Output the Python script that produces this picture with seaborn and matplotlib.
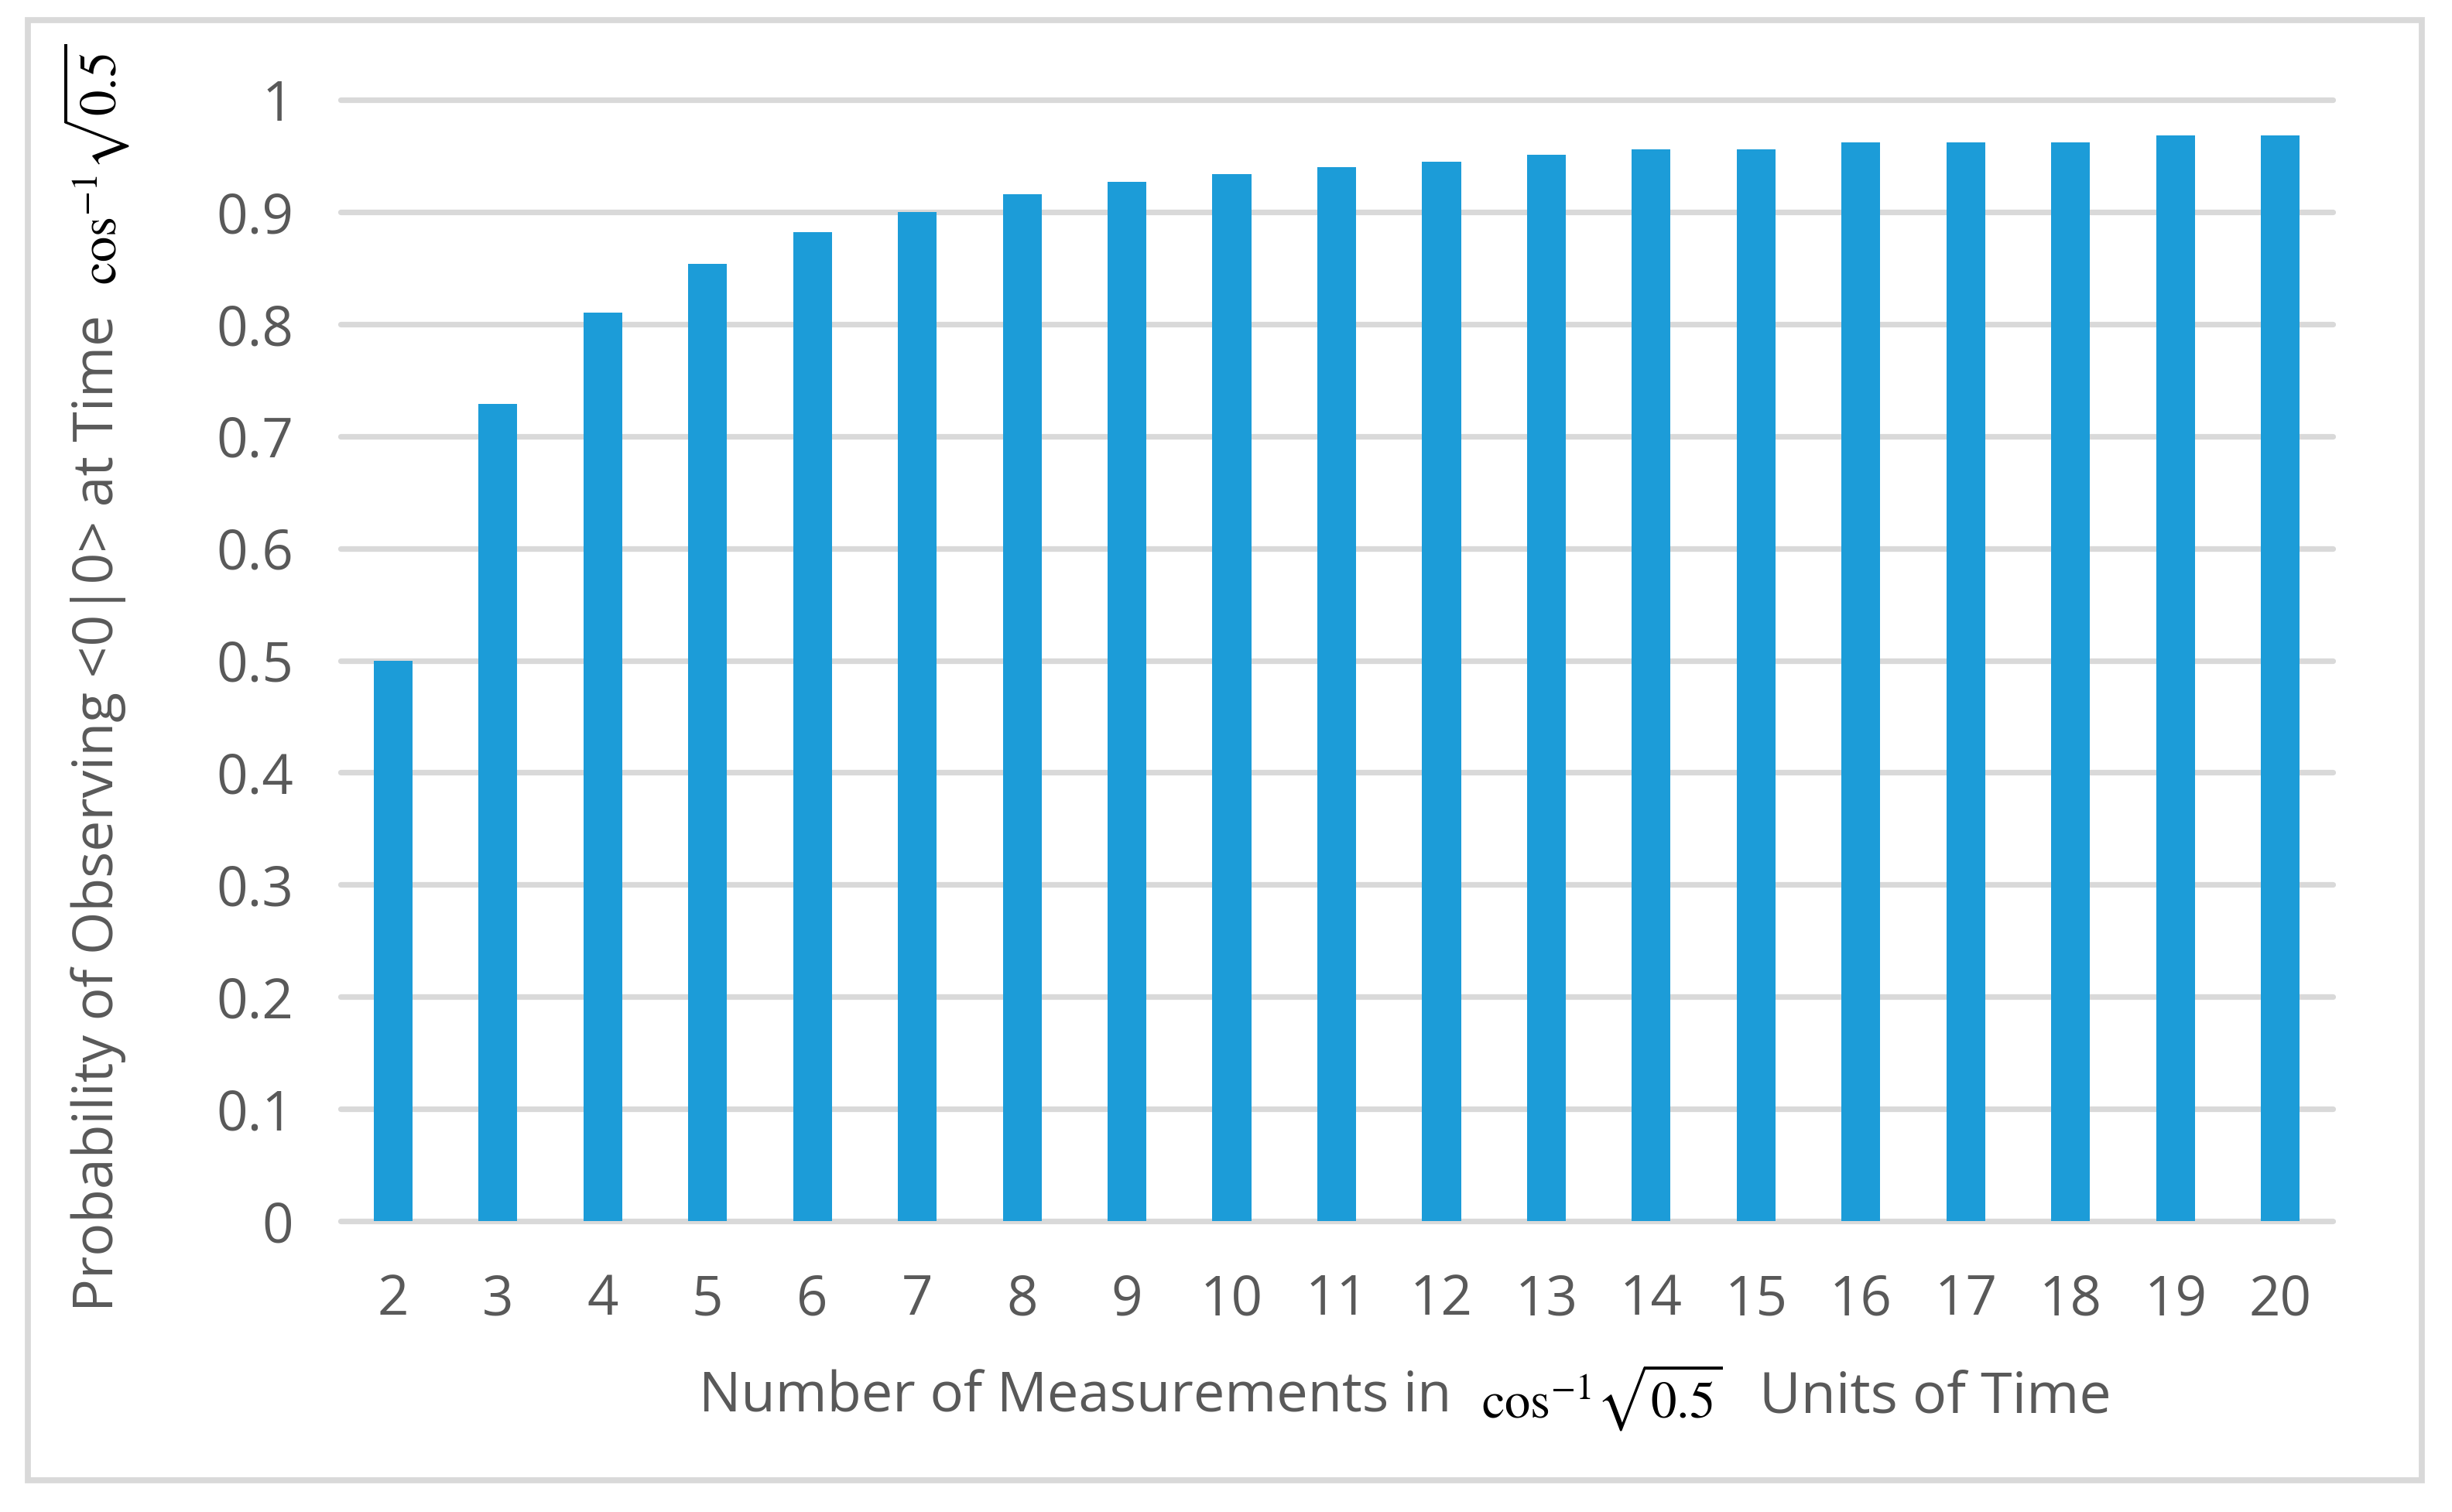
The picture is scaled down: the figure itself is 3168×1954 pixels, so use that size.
import matplotlib
matplotlib.use("Agg")
import matplotlib.pyplot as plt
import seaborn as sns
import pandas as pd
from matplotlib.patches import Rectangle

# ---- data ----
measurements = ["2", "3", "4", "5", "6", "7", "8", "9", "10", "11", "12",
                "13", "14", "15", "16", "17", "18", "19", "20"]
probability = [0.5, 0.729, 0.81, 0.854, 0.882, 0.9, 0.916, 0.927, 0.934, 0.94,
               0.945, 0.951, 0.956, 0.956, 0.962, 0.962, 0.962, 0.968, 0.968]
y_ticks = [0, 0.1, 0.2, 0.3, 0.4, 0.5, 0.6, 0.7, 0.8, 0.9, 1]
y_tick_labels = ["0", "0.1", "0.2", "0.3", "0.4", "0.5", "0.6", "0.7", "0.8", "0.9", "1"]

df = pd.DataFrame({"n": measurements, "p": probability})

sns.set_theme(style="white")
plt.rcParams["font.family"] = ["Open Sans", "DejaVu Sans"]
plt.rcParams["mathtext.fontset"] = "stix"

W, H = 3168, 1954
DPI = 200
fig = plt.figure(figsize=(W / DPI, H / DPI), dpi=DPI)
fig.patch.set_facecolor("white")

def fx(x):
    return x / W

def fy(y):
    return 1 - y / H

left, right, top, bottom = 440, 3014, 129, 1578
ax = fig.add_axes([fx(left), fy(bottom), fx(right) - fx(left), fy(top) - fy(bottom)])

grid_c = "#D9D9D9"
text_c = "#595959"
bar_c = "#1C9CD8"

for yv in y_ticks:
    ax.axhline(yv, color=grid_c, lw=2.6, zorder=0, clip_on=False)

sns.barplot(data=df, x="n", y="p", color=bar_c, width=0.37, saturation=1,
            edgecolor="none", ax=ax, zorder=2)

ax.set_ylim(0, 1)
ax.set_xlim(-0.5, len(measurements) - 0.5)
ax.set_yticks(y_ticks)
ax.set_yticklabels(y_tick_labels)
ax.tick_params(axis="y", length=0, pad=22, labelsize=25.5, labelcolor=text_c)
ax.tick_params(axis="x", length=0, pad=24, labelsize=25.5, labelcolor=text_c)
ax.set_xlabel("")
ax.set_ylabel("")
for s in ax.spines.values():
    s.set_visible(False)

# y label (gray text + black math)
fig.text(fx(127), fy(1695), "Probability of Observing <0|0> at Time",
         rotation=90, ha="center", va="bottom", fontsize=25.7, color=text_c)
fig.text(fx(124), fy(212), r"$\cos^{-1}\!\sqrt{0.5}$",
         rotation=90, ha="center", va="center", fontsize=24, color="black")

# x label
fig.text(fx(903), fy(1806), "Number of Measurements in",
         ha="left", va="center", fontsize=26, color=text_c)
fig.text(fx(2070), fy(1806), r"$\cos^{-1}\!\sqrt{0.5}$",
         ha="center", va="center", fontsize=24, color="black")
fig.text(fx(2273), fy(1806), "Units of Time",
         ha="left", va="center", fontsize=26.5, color=text_c)

# outer border
fig.patches.append(Rectangle((fx(36), fy(1913)), fx(3129) - fx(36), fy(26) - fy(1913),
                             transform=fig.transFigure, fill=False,
                             edgecolor=grid_c, lw=2.8))

fig.savefig("out.png", dpi=DPI, facecolor="white")
